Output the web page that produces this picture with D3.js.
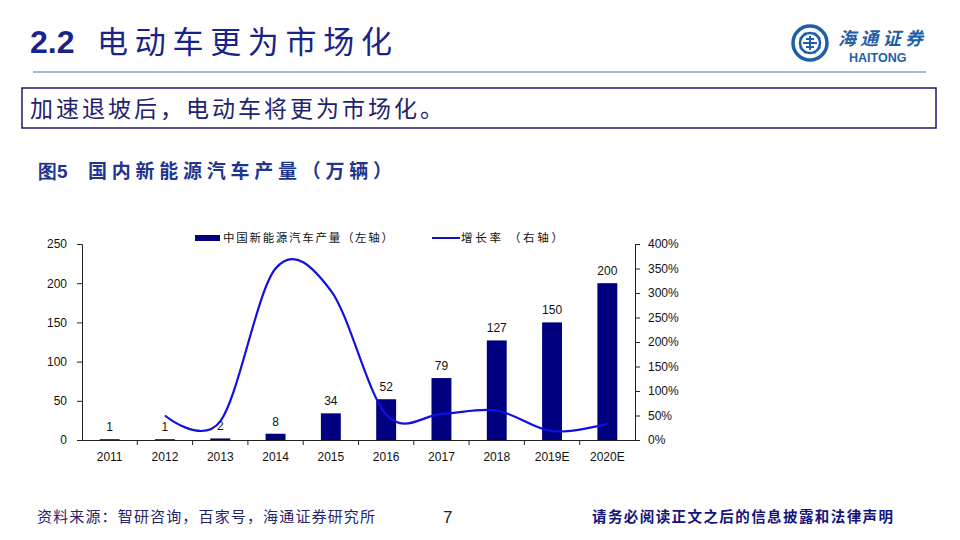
<!DOCTYPE html>
<html>
<head>
<meta charset="utf-8">
<script src="https://cdn.jsdelivr.net/npm/d3@7"></script>
<style>
  body { margin: 0; background: #fff; }
  svg { display: block; }
  .num { font-family: "Liberation Sans", Arial, sans-serif; font-size: 12px; fill: #111; }
  .cjk { font-family: "Noto Sans CJK SC", sans-serif; }
</style>
</head>
<body>
<script>
// data
var years = ["2011", "2012", "2013", "2014", "2015", "2016", "2017", "2018", "2019E", "2020E"];
var output = [1, 1, 2, 8, 34, 52, 79, 127, 150, 200];
var growthYears = ["2012", "2013", "2014", "2015", "2016", "2017", "2018", "2019E", "2020E"];
var growth = [0.50, 0.38, 3.50, 3.05, 0.52, 0.53, 0.60, 0.18, 0.33];
var leftTicks = [0, 50, 100, 150, 200, 250];
var rightTicks = [0, 0.5, 1, 1.5, 2, 2.5, 3, 3.5, 4];

var svg = d3.select("body").append("svg")
	.attr("width", 960)
	.attr("height", 540);

// header
svg.append("text")
	.attr("x", 30).attr("y", 53)
	.attr("fill", "#1a2488")
	.attr("font-family", "Liberation Sans, Arial, sans-serif")
	.attr("font-weight", "bold")
	.attr("font-size", 32)
	.text("2.2");
svg.append("text")
	.attr("class", "cjk")
	.attr("x", 97).attr("y", 53)
	.attr("fill", "#1a2488")
	.attr("font-size", 31)
	.attr("textLength", 295).attr("lengthAdjust", "spacing")
	.text("电动车更为市场化");

svg.append("line")
	.attr("x1", 33).attr("x2", 926)
	.attr("y1", 72).attr("y2", 72)
	.attr("stroke", "#7aa7d6").attr("stroke-width", 1.5);

// logo
var logo = svg.append("g").attr("transform", "translate(810,43)");
logo.append("circle").attr("r", 17).attr("fill", "none").attr("stroke", "#1f5fa8").attr("stroke-width", 3.5);
logo.append("path")
	.attr("d", "M-10,-4 C-4,-12 4,-12 10,-4 M-10,4 C-4,12 4,12 10,4 M-4,-10 C-12,-4 -12,4 -4,10 M4,-10 C12,-4 12,4 4,10")
	.attr("fill", "none").attr("stroke", "#1f5fa8").attr("stroke-width", 2.5);
logo.append("path")
	.attr("d", "M-7,0 H7 M0,-7 V7 M-4,-4 H4 M-4,4 H4")
	.attr("stroke", "#1f5fa8").attr("stroke-width", 2);
svg.append("text")
	.attr("class", "cjk")
	.attr("x", 838).attr("y", 45)
	.attr("font-size", 18).attr("font-style", "italic").attr("font-weight", "bold")
	.attr("textLength", 85).attr("lengthAdjust", "spacing")
	.attr("fill", "#1f5fa8")
	.text("海通证券");
svg.append("text")
	.attr("x", 849).attr("y", 62)
	.attr("font-family", "Liberation Sans, Arial, sans-serif")
	.attr("font-size", 12.5).attr("font-weight", "bold")
	.attr("fill", "#1f5fa8")
	.text("HAITONG");

// key message box
svg.append("rect")
	.attr("x", 22).attr("y", 88)
	.attr("width", 914).attr("height", 40)
	.attr("fill", "none").attr("stroke", "#1a1a6e").attr("stroke-width", 1.5);
svg.append("text")
	.attr("class", "cjk")
	.attr("x", 30).attr("y", 117)
	.attr("font-size", 23)
	.attr("textLength", 413).attr("lengthAdjust", "spacing")
	.attr("fill", "#22226e")
	.text("加速退坡后，电动车将更为市场化。");

// figure caption
svg.append("text")
	.attr("x", 38).attr("y", 178)
	.attr("font-family", "Liberation Sans, Arial, sans-serif")
	.attr("font-size", 19).attr("font-weight", "bold")
	.attr("fill", "#1f3590")
	.text("图5");
svg.append("text")
	.attr("class", "cjk")
	.attr("x", 88).attr("y", 178)
	.attr("font-size", 19).attr("font-weight", "bold")
	.attr("textLength", 304).attr("lengthAdjust", "spacing")
	.attr("fill", "#1f3590")
	.text("国内新能源汽车产量（万辆）");

// chart
var x = d3.scaleBand().domain(years).range([82, 635]);
var yL = d3.scaleLinear().domain([0, 250]).range([440, 244]);
var yR = d3.scaleLinear().domain([0, 4]).range([440, 244]);
var barW = x.bandwidth() * 0.36;

var gL = svg.append("g").attr("transform", "translate(82,0)")
	.call(d3.axisLeft(yL).tickValues(leftTicks).tickSize(5).tickPadding(10));
var gR = svg.append("g").attr("transform", "translate(635,0)")
	.call(d3.axisRight(yR).tickValues(rightTicks).tickSize(5).tickPadding(8).tickFormat(d3.format(".0%")));
var gB = svg.append("g").attr("transform", "translate(0,440)")
	.call(d3.axisBottom(x).tickSize(0).tickPadding(12));

[gL, gR, gB].forEach(function(g) {
	g.select(".domain").attr("stroke", "#222");
	g.selectAll(".tick line").attr("stroke", "#222");
	g.selectAll("text")
		.attr("font-family", "Liberation Sans, Arial, sans-serif")
		.attr("font-size", 12).attr("fill", "#111");
});

// category boundary ticks
gB.selectAll("line.sep")
	.data(years.slice(1))
	.enter().append("line")
	.attr("class", "sep")
	.attr("x1", function(d) { return x(d); })
	.attr("x2", function(d) { return x(d); })
	.attr("y1", 0).attr("y2", 5)
	.attr("stroke", "#222");

svg.selectAll("rect.bar")
	.data(years)
	.enter().append("rect")
	.attr("class", "bar")
	.attr("x", function(d) { return x(d) + (x.bandwidth() - barW) / 2; })
	.attr("width", barW)
	.attr("y", function(d, i) { return yL(output[i]); })
	.attr("height", function(d, i) { return 440 - yL(output[i]); })
	.attr("fill", "#000080");

svg.selectAll("text.lbl")
	.data(years)
	.enter().append("text")
	.attr("class", "num lbl")
	.attr("x", function(d) { return x(d) + x.bandwidth() / 2; })
	.attr("y", function(d, i) { return yL(output[i]) - 8; })
	.attr("text-anchor", "middle")
	.text(function(d, i) { return output[i]; });

var line = d3.line()
	.x(function(d) { return x(d) + x.bandwidth() / 2; })
	.y(function(d, i) { return yR(growth[i]); })
	.curve(d3.curveCardinal.tension(0));

svg.append("path")
	.datum(growthYears)
	.attr("d", line)
	.attr("fill", "none")
	.attr("stroke", "#1010e0")
	.attr("stroke-width", 2.2);

// legend
svg.append("rect")
	.attr("x", 195).attr("y", 235)
	.attr("width", 25).attr("height", 6)
	.attr("fill", "#000080");
svg.append("text")
	.attr("class", "cjk")
	.attr("x", 223).attr("y", 242)
	.attr("font-size", 11.5)
	.attr("textLength", 170).attr("lengthAdjust", "spacing")
	.attr("fill", "#111")
	.text("中国新能源汽车产量（左轴）");
svg.append("line")
	.attr("x1", 432).attr("x2", 460)
	.attr("y1", 238).attr("y2", 238)
	.attr("stroke", "#1010c0").attr("stroke-width", 2);
svg.append("text")
	.attr("class", "cjk")
	.attr("x", 461).attr("y", 242)
	.attr("font-size", 11.5)
	.attr("textLength", 102).attr("lengthAdjust", "spacing")
	.attr("fill", "#111")
	.text("增长率 （右轴）");

// footer
svg.append("text")
	.attr("class", "cjk")
	.attr("x", 37).attr("y", 522)
	.attr("font-size", 15)
	.attr("textLength", 338).attr("lengthAdjust", "spacing")
	.attr("fill", "#23236e")
	.text("资料来源：智研咨询，百家号，海通证券研究所");
svg.append("text")
	.attr("x", 443).attr("y", 523)
	.attr("font-family", "Liberation Sans, Arial, sans-serif")
	.attr("font-size", 17)
	.attr("fill", "#222")
	.text("7");
svg.append("text")
	.attr("class", "cjk")
	.attr("x", 592).attr("y", 522)
	.attr("font-size", 14.5).attr("font-weight", "bold")
	.attr("textLength", 301).attr("lengthAdjust", "spacing")
	.attr("fill", "#14147a")
	.text("请务必阅读正文之后的信息披露和法律声明");
</script>
</body>
</html>
